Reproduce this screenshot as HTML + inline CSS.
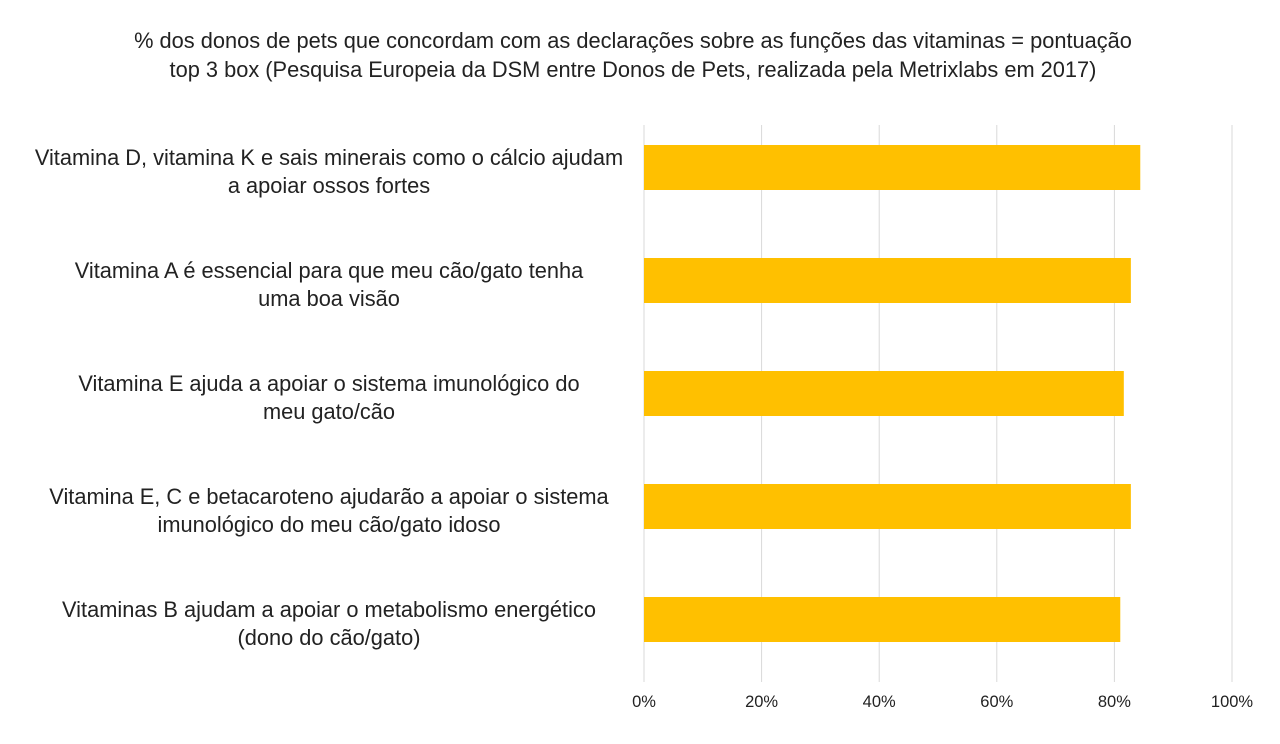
<!DOCTYPE html>
<html><head><meta charset="utf-8"><style>
body{margin:0;background:#fff;font-family:"Liberation Sans",sans-serif;}
svg text{font-family:"Liberation Sans",sans-serif;fill:#222;}
</style></head><body>
<svg width="1280" height="739" id="c">
<text x="633" y="48" font-size="21.8" text-anchor="middle">% dos donos de pets que concordam com as declarações sobre as funções das vitaminas = pontuação</text>
<text x="633" y="77" font-size="21.8" text-anchor="middle">top 3 box (Pesquisa Europeia da DSM entre Donos de Pets, realizada pela Metrixlabs em 2017)</text>
<g id="grid"></g><g id="bars"></g><g id="labels"></g><g id="ticks"></g>
</svg>
<script>
const categories=[["Vitamina D, vitamina K e sais minerais como o cálcio ajudam","a apoiar ossos fortes"],["Vitamina A é essencial para que meu cão/gato tenha","uma boa visão"],["Vitamina E ajuda a apoiar o sistema imunológico do","meu gato/cão"],["Vitamina E, C e betacaroteno ajudarão a apoiar o sistema","imunológico do meu cão/gato idoso"],["Vitaminas B ajudam a apoiar o metabolismo energético","(dono do cão/gato)"]];
const values=[84.4,82.8,81.6,82.8,81.0];
const tickValues=[0,20,40,60,80,100];
const tickLabels=["0%","20%","40%","60%","80%","100%"];
const ns="http://www.w3.org/2000/svg";
const x=v=>644+v*5.88;
const y=i=>145+i*113;
function mk(t,a,p){const e=document.createElementNS(ns,t);for(const k in a)e.setAttribute(k,a[k]);p.appendChild(e);return e;}
const G=document.getElementById('grid'),B=document.getElementById('bars'),L=document.getElementById('labels'),T=document.getElementById('ticks');
tickValues.forEach((v,i)=>{
 const l=mk('line',{x1:x(v),x2:x(v),y1:125,y2:682,stroke:'#d9d9d9','stroke-width':1},G);
 
 
 const t=mk('text',{x:x(v),y:707,'font-size':16.5,'text-anchor':'middle'},T);
 t.textContent=tickLabels[i];
 
 
});
values.forEach((v,i)=>{
 const r=mk('rect',{x:x(0),y:y(i),width:x(v)-x(0),height:45,fill:'#FFC000'},B);
 
 
 categories[i].forEach((s,j)=>{
  const t=mk('text',{x:329,y:y(i)+20+j*28,'font-size':21.8,'text-anchor':'middle'},L);
  t.textContent=s;
  
  
 });
});
</script>
</body></html>
